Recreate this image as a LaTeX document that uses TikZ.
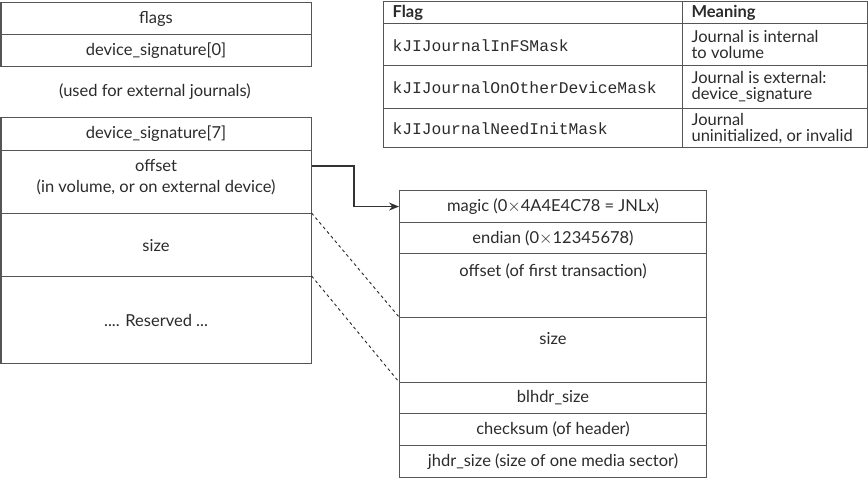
\documentclass[tikz,border=0pt]{standalone}
\usepackage{fontspec}
\setmainfont{Lato}
\setmonofont{Liberation Mono}
\usetikzlibrary{arrows.meta,calc}
\definecolor{lc}{HTML}{555555}
\definecolor{tc}{HTML}{2B2B2B}
\begin{document}
\begin{tikzpicture}[x=1pt,y=-1pt,line width=1.1pt,
  every node/.style={text=tc,font=\fontsize{16.5}{18}\selectfont},
  cell/.style={draw=lc,rectangle,inner sep=0pt,anchor=north west,minimum width=#1},
  lw/.style={cell=310pt},
  rw/.style={cell=307pt},
  txt/.style={inner sep=0pt},
  mono/.style={inner sep=0pt,anchor=west,font=\ttfamily\fontsize{16.3}{18}\selectfont},
  mean/.style={inner sep=0pt,anchor=west,align=left,font=\fontsize{16.5}{16}\selectfont},
  hdr/.style={inner sep=0pt,anchor=west,font=\bfseries\fontsize{16.5}{18}\selectfont},
  arr/.style={draw=black!80,line width=1.3pt,-{Stealth[length=10pt,width=8pt]}},
  dsh/.style={draw=black!85,line width=0.9pt,dash pattern=on 3pt off 3pt}]
\useasboundingbox (0,0) rectangle (868,478);

% left upper box
\node[lw,minimum height=32pt] (f1) at (0.5,2) {flags};
\node[lw,minimum height=32pt] (f2) at (0.5,34) {device\_signature[0]};
\node[txt] (used) at (155,92) {(used for external journals)};

% left lower box
\node[lw,minimum height=33pt] (g1) at (0.5,117) {device\_signature[7]};
\node[lw,minimum height=63pt] (g2) at (0.5,150) {};
\node[txt,align=center,font=\fontsize{16.5}{21}\selectfont] (g2t) at ($(g2.center)+(0,-5)$) {offset\\(in volume, or on external device)};
\node[lw,minimum height=63pt] (g3) at (0.5,213) {size};
\node[lw,minimum height=87pt] (g4) at (0.5,276) {.... Reserved ...};

% right box
\node[rw,minimum height=32pt] (h1) at (399,190) {magic (0$\times$4A4E4C78 = JNLx)};
\node[rw,minimum height=31pt] (h2) at (399,222) {endian (0$\times$12345678)};
\node[rw,minimum height=64pt] (h3) at (399,253) {};
\node[txt] (h3t) at ($(h3.north)+(0,18)$) {offset (of first transaction)};
\node[rw,minimum height=65pt] (h4) at (399,317) {};
\node[txt] (h4t) at ($(h4.north)+(0,22)$) {size};
\node[rw,minimum height=31pt] (h5) at (399,382) {blhdr\_size};
\node[rw,minimum height=32pt] (h6) at (399,413) {checksum (of header)};
\node[rw,minimum height=32pt] (h7) at (399,445) {jhdr\_size (size of one media sector)};

% connectors
\coordinate (s) at ($(g2.north east)+(0,16)$);
\coordinate (bend) at (354,166);
\draw[arr] (s) -- (bend) |- (h1.west);
\draw[dsh] (g3.north east) -- (h4.north west);
\draw[dsh] (g4.north east) -- (h5.north west);

% table
\node[cell=299pt,minimum height=22pt] (t10) at (383,1) {};
\node[cell=185pt,minimum height=22pt] (t20) at (682,1) {};
\node[cell=299pt,minimum height=42pt] (t11) at (383,23) {};
\node[cell=185pt,minimum height=42pt] (t21) at (682,23) {};
\node[cell=299pt,minimum height=43pt] (t12) at (383,65) {};
\node[cell=185pt,minimum height=43pt] (t22) at (682,65) {};
\node[cell=299pt,minimum height=39pt] (t13) at (383,108) {};
\node[cell=185pt,minimum height=39pt] (t23) at (682,108) {};

\node[hdr] (hf) at ($(t10.west)+(9,0)$) {Flag};
\node[hdr] (hm) at ($(t20.west)+(9,0)$) {Meaning};
\node[mono] (m1) at ($(t11.west)+(9,1)$) {kJIJournalInFSMask};
\node[mono] (m2) at ($(t12.west)+(9,1)$) {kJIJournalOnOtherDeviceMask};
\node[mono] (m3) at ($(t13.west)+(9,1)$) {kJIJournalNeedInitMask};
\node[mean] (d1) at ($(t21.west)+(9,0)$) {Journal is internal\\to volume};
\node[mean] (d2) at ($(t22.west)+(9,0)$) {Journal is external:\\device\_signature};
\node[mean] (d3) at ($(t23.west)+(9,0)$) {Journal\\uninitialized, or invalid};
\end{tikzpicture}
\end{document}
